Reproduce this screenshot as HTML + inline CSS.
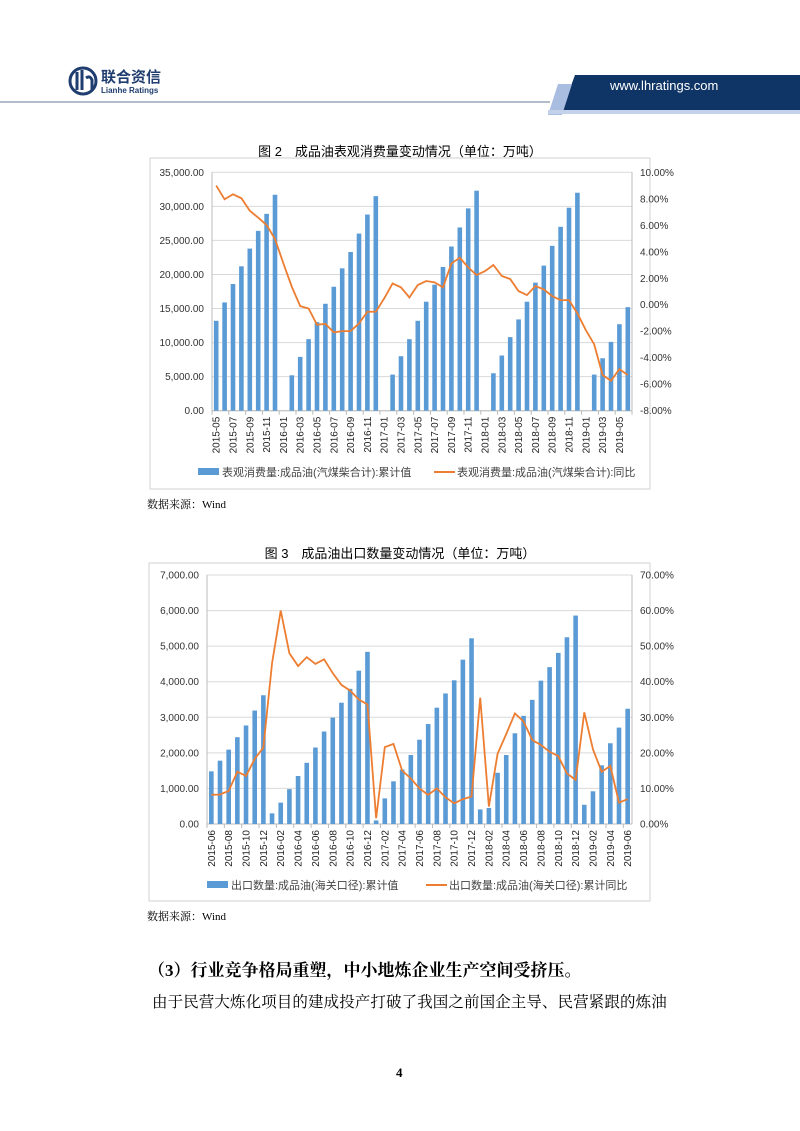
<!DOCTYPE html>
<html><head><meta charset="utf-8">
<style>
body{margin:0;width:800px;height:1131px;background:#fff;position:relative;overflow:hidden;font-family:"Liberation Serif","Noto Serif CJK SC",serif;}
.abs{position:absolute;}
svg text{font-family:"Liberation Sans","Noto Sans CJK SC",sans-serif;}
</style></head><body>
<div class="abs" style="left:0;top:0;width:800px;height:120px;">
<svg width="800" height="120">
<circle cx="83" cy="81" r="13" fill="none" stroke="#1f3d6e" stroke-width="3"/>
<path d="M77 72v18M82 70v20M86 78q4-3 6 2v10" stroke="#1f3d6e" stroke-width="3" fill="none"/>
<text x="101" y="82" font-size="15" font-weight="bold" fill="#1f3d6e">联合资信</text>
<text x="101" y="93" font-size="8" font-weight="bold" fill="#1f3d6e">Lianhe Ratings</text>
<polygon points="575,75 800,75 800,110 562,110" fill="#0f3466"/>
<polygon points="558,84 572,84 562,115 548,115" fill="#a9bde0"/>
<rect x="548" y="110" width="252" height="4" fill="#c3d1ea"/>
<line x1="0" y1="102" x2="550" y2="102" stroke="#9aa6b8" stroke-width="1.5"/>
<text x="610" y="90" font-size="13" fill="#fff">www.lhratings.com</text>
</svg></div>

<div class="abs" style="left:0;width:800px;top:141px;text-align:center;font-size:13px;font-family:'Liberation Sans','Noto Sans CJK SC',sans-serif;">图 2　成品油表观消费量变动情况（单位：万吨）</div>
<svg class="abs" id="c1" style="left:0;top:0" width="800" height="1131"></svg>
<div class="abs" style="left:147px;top:496px;font-size:11px;">数据来源：Wind</div>

<div class="abs" style="left:0;width:800px;top:543px;text-align:center;font-size:13px;font-family:'Liberation Sans','Noto Sans CJK SC',sans-serif;">图 3　成品油出口数量变动情况（单位：万吨）</div>
<div class="abs" style="left:147px;top:908px;font-size:11px;">数据来源：Wind</div>

<div class="abs" style="left:148px;top:956px;font-size:17px;font-weight:bold;">（3）行业竞争格局重塑，中小地炼企业生产空间受挤压。</div>
<div class="abs" style="left:152px;top:990px;font-size:15.5px;letter-spacing:0.1px;">由于民营大炼化项目的建成投产打破了我国之前国企主导、民营紧跟的炼油</div>
<div class="abs" style="left:396px;top:1065px;font-size:13px;font-weight:bold;">4</div>

<script>
const c1Cats=[];(function(){let y=2015,m=5;for(let i=0;i<50;i++){c1Cats.push(y+'-'+String(m).padStart(2,'0'));m++;if(m>12){m=1;y++;}}})();
const c1Bars=[13200,15900,18600,21200,23800,26400,28900,31700,0,5200,7900,10500,13000,15700,18200,20900,23300,26000,28800,31500,0,5300,8000,10500,13200,16000,18500,21100,24100,26900,29700,32300,0,5500,8100,10800,13400,16000,18800,21300,24200,27000,29800,32000,0,5300,7700,10100,12700,15200];
const c1Line=[9.0,7.96,8.34,8.04,7.1,6.57,6.02,4.96,3.12,1.36,-0.1,-0.28,-1.51,-1.44,-2.09,-1.99,-1.99,-1.41,-0.53,-0.53,0.48,1.61,1.31,0.55,1.49,1.79,1.69,1.31,3.12,3.55,2.82,2.24,2.54,3.0,2.17,1.94,1.03,0.73,1.41,1.16,0.65,0.35,0.35,-0.65,-1.91,-2.99,-5.31,-5.74,-4.86,-5.31];
const c1LeftTicks=[0,5000,10000,15000,20000,25000,30000,35000];
const c1RightTicks=[-8,-6,-4,-2,0,2,4,6,8,10];

const c2Cats=[];(function(){let y=2015,m=6;for(let i=0;i<49;i++){c2Cats.push(y+'-'+String(m).padStart(2,'0'));m++;if(m>12){m=1;y++;}}})();
const c2Bars=[1480,1780,2090,2440,2770,3190,3620,300,600,980,1350,1720,2150,2600,2990,3410,3800,4310,4840,100,720,1200,1530,1940,2370,2810,3270,3670,4040,4620,5220,410,450,1440,1940,2550,3040,3490,4030,4410,4810,5250,5860,540,920,1650,2270,2710,3240];
const c2Line=[8.2,8.3,9.3,14.7,13.5,18.3,21.5,45.2,60,48,44.4,46.9,45,46.3,42.4,39.1,37.5,35,33.6,1.6,21.6,22.5,15,12.8,10,8.2,10,7.5,5.8,7,7.7,35.5,4.9,19.7,25.3,31.1,28.8,23.6,22.2,20.3,19.1,14.2,12.4,31.4,21,14.7,16.3,6,7];
const c2LeftTicks=[0,1000,2000,3000,4000,5000,6000,7000];
const c2RightTicks=[0,10,20,30,40,50,60,70];

const NS='http://www.w3.org/2000/svg';
const svg=document.getElementById('c1');
function mk(tag,a,parent){const e=document.createElementNS(NS,tag);for(const k in a)e.setAttribute(k,a[k]);(parent||svg).appendChild(e);return e;}
function fmt(v){return v.toLocaleString('en-US',{minimumFractionDigits:2,maximumFractionDigits:2});}

function draw(o){
  const g=mk('g',{});
  
  
  const box=mk('rect',{x:o.bx,y:o.by,width:o.bw,height:o.bh,fill:'#fff',stroke:'#d0d0d0'},g);
  
  
  const n=o.cats.length,bw=(o.x1-o.x0)/n;
  const yL=v=>o.y1-(v-o.lt[0])/(o.lt[o.lt.length-1]-o.lt[0])*(o.y1-o.y0);
  const yR=v=>o.y1-(v-o.rt[0])/(o.rt[o.rt.length-1]-o.rt[0])*(o.y1-o.y0);
  const xC=i=>o.x0+bw*(i+0.5);
  o.lt.forEach(t=>{const y=yL(t);
    const gl=mk('line',{x1:o.x0,x2:o.x1,y1:y,y2:y,stroke:'#d9d9d9'},g);
    
    
    const tx=mk('text',{x:o.x0-8,y:y+3.5,'font-size':10,'text-anchor':'end',fill:'#333'},g);tx.textContent=fmt(t);
    
    });
  o.rt.forEach(t=>{const y=yR(t);
    const tx=mk('text',{x:o.x1+8,y:y+3.5,'font-size':10,fill:'#333'},g);tx.textContent=t.toFixed(2)+'%';
    
    });
  mk('line',{x1:o.x0,x2:o.x0,y1:o.y0,y2:o.y1,stroke:'#bbb'},g);
  mk('line',{x1:o.x1,x2:o.x1,y1:o.y0,y2:o.y1,stroke:'#bbb'},g);
  mk('line',{x1:o.x0,x2:o.x1,y1:o.y1,y2:o.y1,stroke:'#bbb'},g);
  o.bars.forEach((v,i)=>{if(v<=0)return;const y=yL(v);
    const r=mk('rect',{x:xC(i)-2.3,y:y,width:4.6,height:o.y1-y,fill:'#5b9bd5'},g);
    
    });
  for(let i=0;i<=n;i+=2){const x=o.x0+bw*i;mk('line',{x1:x,x2:x,y1:o.y1,y2:o.y1+4,stroke:'#bbb'},g);}
  o.cats.forEach((c,i)=>{if(i%2)return;
    const tx=mk('text',{x:0,y:0,'font-size':10,'text-anchor':'end',fill:'#222',transform:`translate(${xC(i)+3.5},${o.y1+6}) rotate(-90)`},g);tx.textContent=c;
    
    });
  const pl=mk('polyline',{points:o.line.map((v,i)=>xC(i)+','+yR(v)).join(' '),fill:'none',stroke:'#ed7d31','stroke-width':1.8},g);
  
  
  const l1=mk('rect',{x:o.lg[0],y:o.ly-4,width:21,height:7,fill:'#5b9bd5'},g);
  
  
  const t1=mk('text',{x:o.lg[0]+24,y:o.ly+4,'font-size':11,fill:'#444'},g);t1.textContent=o.l1;
  
  
  const l2=mk('line',{x1:o.lg[1],x2:o.lg[1]+21,y1:o.ly,y2:o.ly,stroke:'#ed7d31','stroke-width':2},g);
  
  
  const t2=mk('text',{x:o.lg[1]+23,y:o.ly+4,'font-size':11,fill:'#444'},g);t2.textContent=o.l2;
  
  
}
draw({name:'consumption-chart',bx:150,by:158,bw:500,bh:331,x0:212,x1:632,y0:172.3,y1:410.7,cats:c1Cats,bars:c1Bars,line:c1Line,lt:c1LeftTicks,rt:c1RightTicks,lg:[198,434],ly:472,l1:'表观消费量:成品油(汽煤柴合计):累计值',l2:'表观消费量:成品油(汽煤柴合计):同比'});
draw({name:'export-chart',bx:149,by:563,bw:501,bh:338,x0:207,x1:632,y0:575,y1:824,cats:c2Cats,bars:c2Bars,line:c2Line,lt:c2LeftTicks,rt:c2RightTicks,lg:[207,426],ly:885,l1:'出口数量:成品油(海关口径):累计值',l2:'出口数量:成品油(海关口径):累计同比'});
</script>
</body></html>
